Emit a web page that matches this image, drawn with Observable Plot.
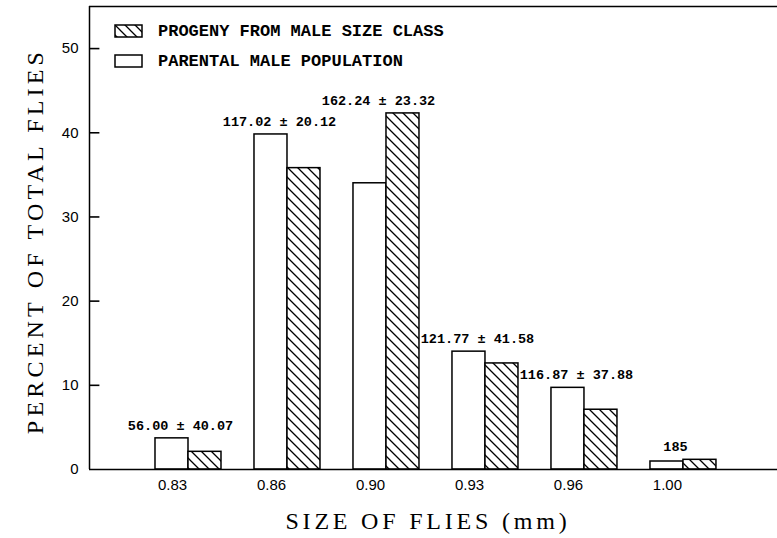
<!DOCTYPE html>
<html><head><meta charset="utf-8">
<script src="https://cdn.jsdelivr.net/npm/d3@7"></script>
<script src="https://cdn.jsdelivr.net/npm/@observablehq/plot@0.6"></script>
<style>body{margin:0;background:#fff}</style>
</head><body><div id="chart"></div>
<script>
const sizes = ["0.83", "0.86", "0.90", "0.93", "0.96", "1.00"];
const parental = [3.7, 39.8, 34.0, 14.0, 9.7, 0.95];
const progeny = [2.1, 35.8, 42.3, 12.6, 7.1, 1.15];
const annotations = ["56.00 ± 40.07", "117.02 ± 20.12", "162.24 ± 23.32", "121.77 ± 41.58", "116.87 ± 37.88", "185"];
const yTicks = [0, 10, 20, 30, 40, 50];
const legendNames = ["PROGENY FROM MALE SIZE CLASS", "PARENTAL MALE POPULATION"];
const xTitle = "SIZE OF FLIES (mm)";
const yTitle = "PERCENT OF TOTAL FLIES";

const barW = 1 / 3;
const tickLen = 0.1;
const rows = sizes.map((s, i) => ({size: s, pos: i + 1, parental: parental[i], progeny: progeny[i], note: annotations[i]}));
const tickRows = yTicks.filter(v => v > 0).map(v => ({v}));

const mono = "'Liberation Mono', 'DejaVu Sans Mono', monospace";
const serif = "'Liberation Serif', 'DejaVu Serif', serif";
const sans = "'Liberation Sans', Arial, sans-serif";

const chart = Plot.plot({
  width: 777,
  height: 538,
  marginLeft: 89,
  marginRight: 0,
  marginTop: 6,
  marginBottom: 69,
  style: {background: "#fff", color: "#000", overflow: "visible"},
  x: {domain: [0, 6.95], axis: null},
  y: {domain: [0, 55], axis: null},
  marks: [
    Plot.ruleY([55], {stroke: "#000", strokeWidth: 1.5}),
    Plot.ruleX([0], {stroke: "#000", strokeWidth: 1.5}),
    Plot.link(tickRows, {x1: () => 0, x2: () => tickLen, y1: "v", y2: "v", stroke: "#000", strokeWidth: 1.6}),
    Plot.axisY({ticks: yTicks, tickSize: 0, tickPadding: 11, fontSize: 15, fontFamily: sans, label: null}),
    Plot.axisX({ticks: rows.map(d => d.pos), tickFormat: p => sizes[p - 1], tickSize: 0, tickPadding: 10, dx: -16, fontSize: 15, fontFamily: sans, label: null}),
    Plot.rectY(rows, {x1: d => d.pos - barW, x2: d => d.pos, y1: 0, y2: "parental", fill: "#fff", stroke: "#000", strokeWidth: 1.5}),
    Plot.rectY(rows, {x1: d => d.pos, x2: d => d.pos + barW, y1: 0, y2: "progeny", fill: "url(#hatch)", stroke: "#000", strokeWidth: 1.5}),
    Plot.ruleY([0], {stroke: "#000", strokeWidth: 1.5}),
    Plot.text(rows, {x: "pos", y: d => Math.max(d.parental, d.progeny), text: "note", dx: -8, dy: -13, fontFamily: mono, fontWeight: "bold", fontSize: 13.5, fill: "#000"})
  ]
});

document.getElementById("chart").append(chart);

const svg = d3.select(chart);
const defs = svg.insert("defs", ":first-child");
const pat = defs.append("pattern").attr("id", "hatch").attr("patternUnits", "userSpaceOnUse").attr("width", 10).attr("height", 10);
pat.append("rect").attr("width", 10).attr("height", 10).attr("fill", "#fff");
pat.append("path").attr("d", "M0,0L10,10M-5,5L5,15M5,-5L15,5").attr("stroke", "#000").attr("stroke-width", 1.3);

// legend
const leg = svg.append("g").attr("font-family", mono).attr("font-weight", "bold").attr("font-size", 17).attr("text-anchor", "start");
[["url(#hatch)", 25], ["#fff", 55]].forEach(([f, y], i) => {
  leg.append("rect").attr("x", 115).attr("y", y).attr("width", 27).attr("height", 12).attr("fill", f).attr("stroke", "#000").attr("stroke-width", 1.5);
  leg.append("text").attr("x", 158).attr("y", y + 6).attr("dominant-baseline", "central").attr("text-anchor", "start").text(legendNames[i]);
});

// axis titles
svg.append("text").attr("x", 428).attr("y", 521).attr("text-anchor", "middle").attr("dominant-baseline", "central")
  .attr("font-family", serif).attr("font-size", 24).attr("letter-spacing", "3.8px").text(xTitle);
svg.append("text").attr("transform", "translate(35,241) rotate(-90)").attr("text-anchor", "middle").attr("dominant-baseline", "central")
  .attr("font-family", serif).attr("font-size", 24).attr("letter-spacing", "4.2px").text(yTitle);
</script>
</body></html>
